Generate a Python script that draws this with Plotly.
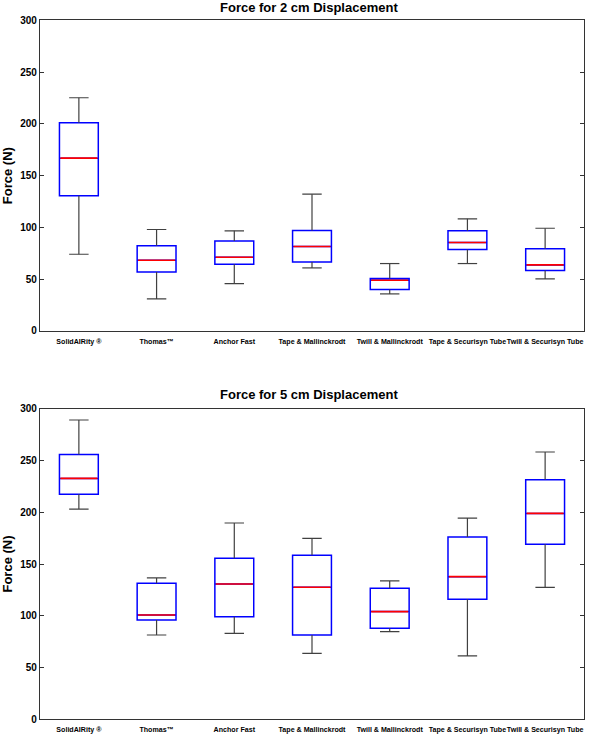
import plotly.graph_objects as go

categories = ["SolidAIRity ®", "Thomas™", "Anchor Fast", "Tape & Mallinckrodt",
              "Twill & Mallinckrodt", "Tape & Securisyn Tube", "Twill & Securisyn Tube"]

# Force for 2 cm displacement
f2_lower = [74.1, 30.9, 45.8, 60.9, 35.8, 65.1, 50.3]
f2_q1 = [130.5, 57.0, 64.4, 66.7, 40.0, 78.6, 58.3]
f2_median = [166.9, 68.3, 71.2, 81.5, 49.0, 85.4, 63.8]
f2_q3 = [201.0, 82.2, 87.0, 97.0, 50.6, 96.7, 79.3]
f2_upper = [225.2, 98.0, 96.7, 132.1, 65.1, 108.3, 99.2]

# Force for 5 cm displacement
f5_lower = [203.1, 81.4, 83.0, 63.7, 84.7, 61.2, 127.5]
f5_q1 = [217.3, 95.9, 99.1, 81.4, 87.9, 115.9, 169.0]
f5_median = [232.7, 100.8, 130.7, 127.5, 104.0, 137.8, 198.9]
f5_q3 = [255.9, 131.3, 155.5, 158.4, 126.5, 176.1, 231.4]
f5_upper = [289.1, 136.5, 189.6, 174.8, 133.6, 194.4, 258.2]

y_ticks = [0, 50, 100, 150, 200, 250, 300]

BOX_HALF = 0.25
CAP_HALF = 0.125
WHISKER_COLOR = "#404040"
FONT = "Arial, Liberation Sans, sans-serif"

fig = go.Figure()

def add_panel(lower, q1, med, q3, upper, xa, ya):
    xs = list(range(len(categories)))
    fig.add_trace(go.Box(
        x=xs, q1=q1, median=med, q3=q3, lowerfence=q1, upperfence=q3,
        width=2 * BOX_HALF, whiskerwidth=0,
        line=dict(color="#0000ff", width=1.5), fillcolor="rgba(0,0,0,0)",
        boxpoints=False, xaxis=xa, yaxis=ya, showlegend=False, hoverinfo="skip"))
    wx, wy = [], []
    for i in xs:
        wx += [i, i, None, i, i, None,
               i - CAP_HALF, i + CAP_HALF, None, i - CAP_HALF, i + CAP_HALF, None]
        wy += [q3[i], upper[i], None, q1[i], lower[i], None,
               upper[i], upper[i], None, lower[i], lower[i], None]
    fig.add_trace(go.Scatter(x=wx, y=wy, mode="lines",
                             line=dict(color=WHISKER_COLOR, width=1.2),
                             xaxis=xa, yaxis=ya, showlegend=False, hoverinfo="skip"))
    mx, my = [], []
    for i in xs:
        mx += [i - BOX_HALF + 0.012, i + BOX_HALF - 0.012, None]
        my += [med[i], med[i], None]
    fig.add_trace(go.Scatter(x=mx, y=my, mode="lines",
                             line=dict(color="#ff0000", width=1.6),
                             xaxis=xa, yaxis=ya, showlegend=False, hoverinfo="skip"))

add_panel(f2_lower, f2_q1, f2_median, f2_q3, f2_upper, "x", "y")
add_panel(f5_lower, f5_q1, f5_median, f5_q3, f5_upper, "x2", "y2")

xaxis_common = dict(
    range=[-0.5, 6.5], tickvals=list(range(len(categories))), ticktext=categories,
    tickangle=0, automargin=False, ticklabelstandoff=3,
    showline=True, linecolor="#333333", linewidth=1.2, mirror=True, ticks="",
    showgrid=False, zeroline=False,
    tickfont=dict(family=FONT, size=7.1, color="black", weight="bold"),
)
yaxis_common = dict(
    range=[0, 300], tickvals=y_ticks, automargin=False,
    showline=True, linecolor="#333333", linewidth=1.2,
    mirror="ticks", ticks="inside", ticklen=4, tickcolor="#333333",
    showgrid=False, zeroline=False,
    tickfont=dict(family=FONT, size=10, color="black", weight="bold"),
    title=dict(text="Force (N)", standoff=8,
               font=dict(family=FONT, size=13, color="black", weight="bold")),
)

fig.update_layout(
    width=600, height=735,
    margin=dict(l=0, r=0, t=0, b=0, autoexpand=False),
    plot_bgcolor="white", paper_bgcolor="white",
    xaxis=dict(domain=[0.0667, 0.9733], anchor="y", **xaxis_common),
    yaxis=dict(domain=[0.5497, 0.9724], anchor="x", **yaxis_common),
    xaxis2=dict(domain=[0.0667, 0.9733], anchor="y2", **xaxis_common),
    yaxis2=dict(domain=[0.0214, 0.4439], anchor="x2", **yaxis_common),
    annotations=[
        dict(text="<b>Force for 2 cm Displacement</b>", x=0.515, y=0.9724, xref="paper", yref="paper",
             xanchor="center", yanchor="bottom", yshift=3, showarrow=False,
             font=dict(family=FONT, size=13, color="black")),
        dict(text="<b>Force for 5 cm Displacement</b>", x=0.515, y=0.4439, xref="paper", yref="paper",
             xanchor="center", yanchor="bottom", yshift=5, showarrow=False,
             font=dict(family=FONT, size=13, color="black")),
    ],
)

fig.write_html("out.html", config={"displayModeBar": False},
               post_script="document.body.style.margin='0px';")
